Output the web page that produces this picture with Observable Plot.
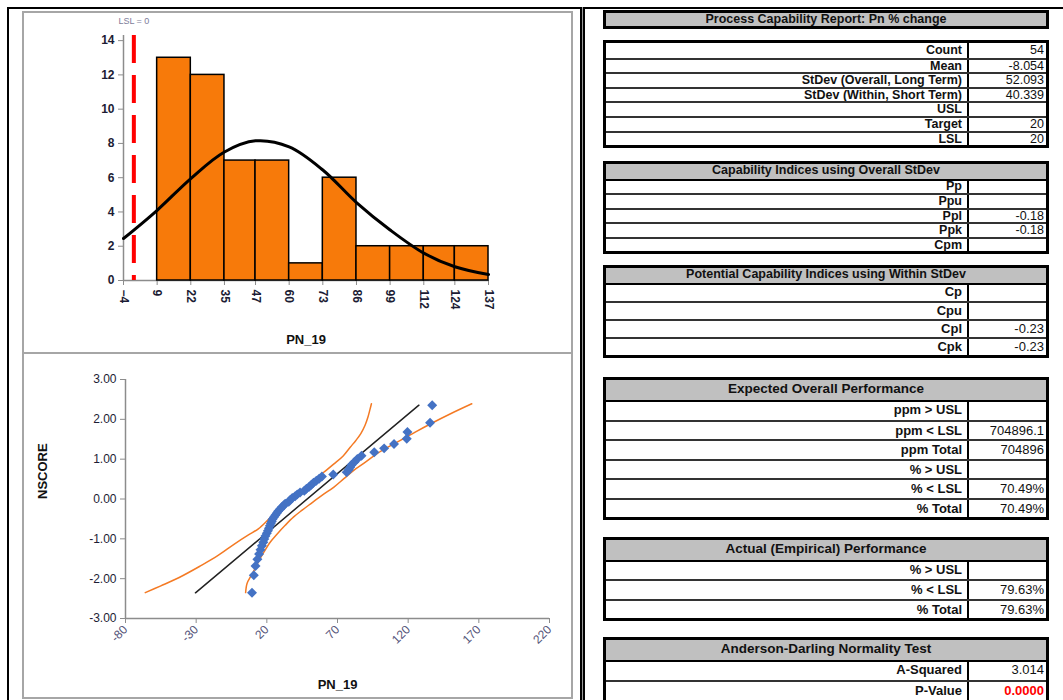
<!DOCTYPE html>
<html><head><meta charset="utf-8">
<script src="https://cdn.jsdelivr.net/npm/d3@7"></script>
<script src="https://cdn.jsdelivr.net/npm/@observablehq/plot@0.6"></script>
<style>
html,body{margin:0;padding:0;background:#fff}
body{width:1063px;height:700px;overflow:hidden;position:relative;font-family:"Liberation Sans",Arial,sans-serif}
.abs{position:absolute;box-sizing:border-box}
.tbl{position:absolute;box-sizing:border-box;left:603px;width:446px;border:3px solid #000;font-family:"Liberation Sans Narrow","Liberation Sans",Arial,sans-serif;font-weight:bold;color:#111;background:#fff}
.hdr{position:absolute;left:0;right:0;top:0;background:#c0c0c0;border-bottom:2px solid #000;text-align:center;white-space:nowrap}
.row{position:absolute;left:0;right:0;white-space:nowrap}
.row.sep{border-top:2px solid #333}
.lab{position:absolute;left:0;width:361px;top:0;bottom:0;text-align:right;padding-right:5px;box-sizing:border-box}
.val{position:absolute;left:361px;right:0;top:0;bottom:0;border-left:2px solid #000;text-align:right;padding-right:2px;box-sizing:border-box;font-weight:normal}
</style></head><body>
<div class="abs" style="left:7px;top:7px;width:1056px;height:2px;background:#000"></div>
<div class="abs" style="left:7px;top:7px;width:2px;height:693px;background:#000"></div>
<div class="abs" style="left:22px;top:11px;width:551px;height:688px;border:2px solid #a6a6a6"></div>
<div class="abs" style="left:22px;top:352px;width:551px;height:2px;background:#a6a6a6"></div>
<div class="abs" style="left:580px;top:7px;width:5px;height:693px;background:linear-gradient(to right,#000 0 2px,#999 2px 3px,#000 3px 5px)"></div>
<div id="hist" class="abs" style="left:23px;top:12px"></div>
<div id="qq" class="abs" style="left:23px;top:355px"></div>
<div id="tables"></div>
<script>
// ---------- Histogram data ----------
const binEdges = [-4, 9, 22, 35, 47, 60, 73, 86, 99, 112, 124, 137];
const binCounts = [0, 13, 12, 7, 7, 1, 6, 2, 2, 2, 2];
const normalCurveX = [-4, 9, 22, 35, 47, 60, 73, 86, 99, 112, 124, 137];
const normalCurveY = [2.45, 4.1, 5.95, 7.5, 8.15, 7.8, 6.45, 4.55, 2.95, 1.6, 0.8, 0.35];
const histYTicks = [0, 2, 4, 6, 8, 10, 12, 14];
const lslValue = [0];
const lslLabel = ["LSL = 0"];
const histXTitle = ["PN_19"];

// ---------- Normal probability plot data ----------
const qqValues = [9.5, 10.8, 12, 13.3, 14.5, 15.5, 16.5, 17.5, 18.2, 19, 20, 20.8, 21.5,
  22.2, 22.8, 23.5, 24, 25, 26, 27, 28, 29.3, 30.5, 32, 33, 35.5, 36.5,
  38, 40, 41.5, 43.5, 46.5, 48, 50, 51.5, 53, 55, 57, 59, 67, 76.5, 78, 79, 80, 82, 84,
  87, 96, 103, 110, 119, 119.5, 135.5, 137];
const qqNscores = [-2.355, -1.914, -1.682, -1.515, -1.383, -1.271, -1.173, -1.085, -1.005, -0.931, -0.861, -0.796, -0.734,
  -0.674, -0.617, -0.562, -0.508, -0.456, -0.405, -0.355, -0.306, -0.258, -0.210, -0.163, -0.116, -0.070, -0.023,
  0.023, 0.070, 0.116, 0.163, 0.210, 0.258, 0.306, 0.355, 0.405, 0.456, 0.508, 0.562, 0.617, 0.674, 0.734, 0.796, 0.861, 0.931, 1.005,
  1.085, 1.173, 1.271, 1.383, 1.515, 1.682, 1.914, 2.355];
const fitLineX = [-30.5, 127.6];
const fitLineY = [-2.355, 2.355];
const bandLeftX = [-66, -55, -42, -27, -15, -3, 7, 14, 23, 32, 44, 50, 56, 62, 67.5, 74, 79, 83, 86.5, 89.5, 91.5, 93, 94];
const bandLeftY = [-2.35, -2.18, -1.97, -1.68, -1.43, -1.13, -0.9, -0.75, -0.45, -0.17, 0.13, 0.34, 0.55, 0.72, 0.88, 1.08, 1.30, 1.47, 1.64, 1.85, 2.05, 2.25, 2.39];
const bandRightX = [5, 6, 8.5, 11, 14, 18, 22.5, 27.5, 33, 39, 45, 51, 59, 67.5, 74.5, 81.5, 90, 98, 106, 114.5, 125, 136, 150, 165];
const bandRightY = [-2.35, -2.12, -1.95, -1.79, -1.58, -1.33, -1.08, -0.87, -0.66, -0.45, -0.28, -0.12, 0.09, 0.30, 0.51, 0.72, 0.93, 1.14, 1.31, 1.47, 1.68, 1.89, 2.14, 2.39];
const qqXTicks = [-80, -30, 20, 70, 120, 170, 220];
const qqYTicks = [-3, -2, -1, 0, 1, 2, 3];
const qqXTitle = ["PN_19"];
const qqYTitle = ["NSCORE"];

// ---------- Report tables ----------
const reportTitle = "Process Capability Report: Pn % change";
const summaryLabels = ["Count", "Mean", "StDev (Overall, Long Term)", "StDev (Within, Short Term)", "USL", "Target", "LSL"];
const summaryValues = ["54", "-8.054", "52.093", "40.339", "", "20", "20"];
const overallTitle = "Capability Indices using Overall StDev";
const overallLabels = ["Pp", "Ppu", "Ppl", "Ppk", "Cpm"];
const overallValues = ["", "", "-0.18", "-0.18", ""];
const withinTitle = "Potential Capability Indices using Within StDev";
const withinLabels = ["Cp", "Cpu", "Cpl", "Cpk"];
const withinValues = ["", "", "-0.23", "-0.23"];
const expectedTitle = "Expected Overall Performance";
const expectedLabels = ["ppm > USL", "ppm < LSL", "ppm Total", "% > USL", "% < LSL", "% Total"];
const expectedValues = ["", "704896.1", "704896", "", "70.49%", "70.49%"];
const actualTitle = "Actual (Empirical) Performance";
const actualLabels = ["% > USL", "% < LSL", "% Total"];
const actualValues = ["", "79.63%", "79.63%"];
const adTitle = "Anderson-Darling Normality Test";
const adLabels = ["A-Squared", "P-Value"];
const adValues = ["3.014", "0.0000"];

// ---------- Histogram ----------
const histData = binCounts.map((c, i) => ({x1: binEdges[i], x2: binEdges[i + 1], y: c})).filter(d => d.y > 0);
const curveData = normalCurveX.map((x, i) => ({x, y: normalCurveY[i]}));
const labelColor = "#1c1c34";
const hist = Plot.plot({
  width: 549, height: 341,
  marginLeft: 100, marginRight: 84, marginTop: 23, marginBottom: 73,
  style: {background: "transparent", overflow: "visible", fontFamily: "'Liberation Sans', Arial, sans-serif"},
  x: {domain: [binEdges[0], binEdges[binEdges.length - 1]]},
  y: {domain: [0, 14.3]},
  marks: [
    Plot.ruleX([binEdges[0]], {stroke: "#8c8c8c", strokeWidth: 1.5}),
    Plot.ruleY([0], {stroke: "#8c8c8c", strokeWidth: 1.5}),
    Plot.axisY({ticks: histYTicks, tickSize: 5, tickPadding: 4, stroke: "#8c8c8c", fill: labelColor, fontSize: 12, fontWeight: "bold", label: null}),
    Plot.axisX({ticks: binEdges, tickSize: 5, tickPadding: 4, tickRotate: 90, stroke: "#8c8c8c", fill: labelColor, fontSize: 12, fontWeight: "bold", label: null}),
    Plot.rectY(histData, {x1: "x1", x2: "x2", y: "y", fill: "#F77A0A", stroke: "#000", strokeWidth: 1.5}),
    Plot.ruleX(lslValue, {stroke: "#ff0000", strokeWidth: 4, strokeDasharray: "28,12"}),
    Plot.text(lslLabel, {x: lslValue[0], y: 14.3, text: d => d, dy: -14, fontSize: 9, fill: "#7d7d9a"}),
    Plot.line(curveData, {x: "x", y: "y", stroke: "#000", strokeWidth: 3, curve: "catmull-rom"}),
    Plot.text(histXTitle, {frameAnchor: "bottom", text: d => d, dy: 63, fontSize: 13, fontWeight: "bold", fill: "#111"})
  ]
});
document.getElementById("hist").appendChild(hist);

// ---------- Normal probability plot ----------
const pts = qqValues.map((x, i) => ({x, y: qqNscores[i]}));
const fit = fitLineX.map((x, i) => ({x, y: fitLineY[i]}));
const bandL = bandLeftX.map((x, i) => ({x, y: bandLeftY[i]}));
const bandR = bandRightX.map((x, i) => ({x, y: bandRightY[i]}));
const qq = Plot.plot({
  width: 549, height: 341,
  marginLeft: 102, marginRight: 23, marginTop: 24, marginBottom: 78,
  style: {background: "transparent", overflow: "visible", fontFamily: "'Liberation Sans', Arial, sans-serif"},
  x: {domain: [qqXTicks[0], qqXTicks[qqXTicks.length - 1]]},
  y: {domain: [qqYTicks[0], qqYTicks[qqYTicks.length - 1]]},
  marks: [
    Plot.ruleX([qqXTicks[0]], {stroke: "#8c8c8c", strokeWidth: 1.5}),
    Plot.ruleY([qqYTicks[0]], {stroke: "#8c8c8c", strokeWidth: 1.5}),
    Plot.axisY({ticks: qqYTicks, tickFormat: d => d.toFixed(2), tickSize: 5, tickPadding: 4, stroke: "#8c8c8c", fill: labelColor, fontSize: 12, label: null}),
    Plot.axisX({ticks: qqXTicks, tickFormat: d => String(d), tickSize: 5, tickPadding: 4, tickRotate: -45, stroke: "#8c8c8c", fill: "#55557a", fontSize: 12, label: null}),
    Plot.line(bandL, {x: "x", y: "y", stroke: "#F47A24", strokeWidth: 1.5, curve: "catmull-rom"}),
    Plot.line(bandR, {x: "x", y: "y", stroke: "#F47A24", strokeWidth: 1.5, curve: "catmull-rom"}),
    Plot.line(fit, {x: "x", y: "y", stroke: "#222", strokeWidth: 1.5}),
    Plot.dot(pts, {x: "x", y: "y", symbol: "diamond2", r: 4.5, fill: "#4472C4"}),
    Plot.text(qqXTitle, {frameAnchor: "bottom", text: d => d, dy: 70, fontSize: 13, fontWeight: "bold", fill: "#111"}),
    Plot.text(qqYTitle, {frameAnchor: "left", text: d => d, dx: -83, rotate: -90, fontSize: 13, fontWeight: "bold", fill: "#111"})
  ]
});
document.getElementById("qq").appendChild(qq);

// ---------- Tables ----------
const tablesEl = document.getElementById("tables");
function box(top, height, title, fontSize) {
  const t = document.createElement("div");
  t.className = "tbl";
  t.style.top = top + "px";
  t.style.height = height + "px";
  t.style.background = "#c0c0c0";
  t.style.fontSize = fontSize + "px";
  t.style.lineHeight = (height - 6) + "px";
  t.style.textAlign = "center";
  t.textContent = title;
  tablesEl.appendChild(t);
}
function table(top, title, headerH, rowH, labels, values, fontSize, hdrFont, valueColors) {
  const inner = (title ? headerH : 0) + rowH * labels.length;
  const t = document.createElement("div");
  t.className = "tbl";
  t.style.top = top + "px";
  t.style.height = (inner + 6) + "px";
  t.style.fontSize = fontSize + "px";
  if (title) {
    const h = document.createElement("div");
    h.className = "hdr";
    h.style.height = headerH + "px";
    h.style.lineHeight = (headerH - 2) + "px";
    h.style.fontSize = hdrFont + "px";
    h.textContent = title;
    t.appendChild(h);
  }
  labels.forEach((lab, i) => {
    const r = document.createElement("div");
    r.className = "row" + ((i > 0) ? " sep" : "");
    const y = (title ? headerH : 0) + i * rowH;
    r.style.top = y + "px";
    r.style.height = rowH + "px";
    r.style.lineHeight = Math.max(12, rowH - (i > 0 ? 2 : 0)) + "px";
    const l = document.createElement("div");
    l.className = "lab"; l.textContent = lab;
    const v = document.createElement("div");
    v.className = "val"; v.textContent = values[i];
    if (valueColors && valueColors[i]) { v.style.color = valueColors[i]; v.style.fontWeight = "bold"; }
    r.appendChild(l); r.appendChild(v);
    t.appendChild(r);
  });
  tablesEl.appendChild(t);
}
box(10, 19, reportTitle, 12.5);
table(40, null, 0, 14.6, summaryLabels, summaryValues, 12.5, 13);
table(161, overallTitle, 15, 14.4, overallLabels, overallValues, 12.5, 12.5);
table(265, withinTitle, 15, 18, withinLabels, withinValues, 13, 12.5);
table(377, expectedTitle, 20, 19.5, expectedLabels, expectedValues, 13, 13.5);
table(537, actualTitle, 20, 19.3, actualLabels, actualValues, 13, 13.5);
table(637, adTitle, 20, 20, adLabels, adValues, 13, 13.5, [null, "#ff0000"]);
</script>
</body></html>
